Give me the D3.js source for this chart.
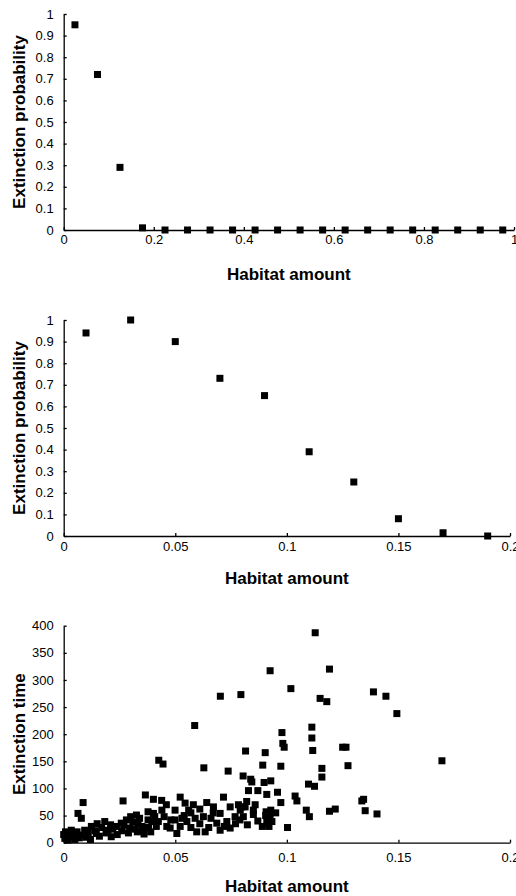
<!DOCTYPE html>
<html>
<head>
<meta charset="utf-8">
<script src="https://cdn.jsdelivr.net/npm/d3@7"></script>
<style>
  body { margin: 0; background: #fff; }
  svg { display: block; font-family: "Liberation Sans", Arial, sans-serif; }
  .axis path, .axis line { stroke: #000; stroke-width: 1.3; }
  .axis text { font-size: 13px; fill: #000; }
  .title { font-size: 17px; font-weight: bold; fill: #000; }
</style>
</head>
<body>
<div id="chartDiv"></div>
<script>
// Panel A: extinction probability vs habitat amount (0..1)
var habitatA = [0.025, 0.075, 0.125, 0.175, 0.225, 0.275, 0.325, 0.375, 0.425, 0.475,
                0.525, 0.575, 0.625, 0.675, 0.725, 0.775, 0.825, 0.875, 0.925, 0.975];
var probA = [0.95, 0.72, 0.29, 0.01, 0, 0, 0, 0, 0, 0, 0, 0, 0, 0, 0, 0, 0, 0, 0, 0];

// Panel B: extinction probability vs habitat amount (0..0.2)
var habitatB = [0.01, 0.03, 0.05, 0.07, 0.09, 0.11, 0.13, 0.15, 0.17, 0.19];
var probB = [0.94, 1.0, 0.9, 0.73, 0.65, 0.39, 0.25, 0.08, 0.015, 0];

// Panel C: extinction time vs habitat amount
var habitatC = [
  0.1127, 0.0925, 0.1191, 0.1018, 0.1149, 0.1179, 0.1388, 0.1444, 0.1493, 0.1695,
  0.0702, 0.0794, 0.0587, 0.1112, 0.1112, 0.1116, 0.0978, 0.0982, 0.0988, 0.0903,
  0.0815, 0.1250, 0.1265, 0.1274, 0.0426, 0.0445, 0.0628, 0.0737, 0.0892, 0.0973,
  0.1157, 0.1157, 0.0804, 0.0838, 0.0843, 0.0898, 0.0928, 0.1097, 0.1124, 0.0828,
  0.0870, 0.0910, 0.0958, 0.1037, 0.1045, 0.0973, 0.1336, 0.1344, 0.1351, 0.1404,
  0.1191, 0.1217, 0.1087, 0.1101, 0.1003, 0.0820, 0.0858, 0.0798, 0.0850, 0.0805,
  0.0907, 0.0928, 0.0918, 0.0933, 0.0823, 0.0905, 0.0915, 0.0925, 0.0910, 0.0920,
  0.0087, 0.0266, 0.0366, 0.0402, 0.0439, 0.0064, 0.0079, 0.0522, 0.0544, 0.0581,
  0.0641, 0.0716, 0.0671, 0.0746, 0.0783, 0.0402, 0.0424, 0.0395, 0.0462, 0.0499,
  0.0499, 0.0522, 0.0552, 0.0589, 0.0626, 0.0596, 0.0634, 0.0686, 0.0701, 0.0731,
  0.0768, 0.0791, 0.0813, 0.0507, 0.0477, 0.0701, 0.0746, 0.0560, 0.0610, 0.0660,
  0.0540, 0.0570, 0.0450, 0.0480,
  0.0012, 0.0034, 0.0057, 0.0094, 0.0124, 0.0146, 0.0184, 0.0199, 0.0213, 0.0236,
  0.0258, 0.0281, 0.0296, 0.0326, 0.0333, 0.0356, 0.0378, 0.0378, 0.0408, 0.0415,
  0.0005, 0.0010, 0.0020, 0.0030, 0.0040, 0.0050, 0.0060, 0.0070, 0.0080, 0.0100,
  0.0110, 0.0120, 0.0140, 0.0160, 0.0170, 0.0190, 0.0220, 0.0240, 0.0260, 0.0270,
  0.0290, 0.0310, 0.0320, 0.0340, 0.0350, 0.0360, 0.0380, 0.0390, 0.0000, 0.0008,
  0.0020, 0.0150, 0.0210, 0.0300, 0.0330,
  0.0440, 0.0460, 0.0530, 0.0570, 0.0610, 0.0650, 0.0670, 0.0720, 0.0770, 0.0790,
  0.0850, 0.0870, 0.0950, 0.0890
];
var timeC = [
  387, 317, 320, 284, 266, 260, 278, 270, 238, 151,
  270, 273, 216, 213, 193, 170, 203, 183, 176, 166,
  169, 176, 176, 142, 152, 145, 138, 132, 143, 141,
  137, 121, 123, 117, 112, 111, 114, 108, 104, 96,
  96, 89, 93, 86, 77, 74, 77, 80, 59, 53,
  58, 62, 60, 48, 28, 76, 70, 66, 60, 48,
  57, 60, 45, 39, 33, 50, 35, 52, 42, 30,
  74, 77, 88, 80, 78, 54, 45, 84, 73, 70,
  74, 84, 66, 66, 70, 54, 39, 39, 30, 60,
  42, 30, 39, 45, 48, 20, 20, 36, 54, 39,
  48, 60, 66, 17, 27, 23, 27, 60, 62, 45,
  50, 28, 48, 42,
  17, 23, 14, 23, 30, 17, 39, 23, 11, 30,
  36, 42, 27, 51, 36, 23, 42, 57, 48, 30,
  8, 12, 5, 10, 15, 6, 20, 9, 14, 10,
  18, 6, 22, 12, 28, 18, 25, 15, 22, 32,
  18, 38, 25, 45, 30, 16, 28, 20, 15, 20,
  18, 35, 33, 48, 20,
  60, 70, 45, 55, 35, 28, 55, 30, 35, 42,
  52, 40, 55, 30
];

// tick values
var ticksXA = [0, 0.2, 0.4, 0.6, 0.8, 1];
var ticksXB = [0, 0.05, 0.1, 0.15, 0.2];
var ticksProb = [0, 0.1, 0.2, 0.3, 0.4, 0.5, 0.6, 0.7, 0.8, 0.9, 1];
var ticksTime = [0, 50, 100, 150, 200, 250, 300, 350, 400];

var xTitle = "Habitat amount";

var svg = d3.select("#chartDiv").append("svg")
    .attr("width", 516)
    .attr("height", 896);

function drawPanel(p) {
  var x = d3.scaleLinear().domain(p.xDomain).range([63.7, p.right]);
  var y = d3.scaleLinear().domain(p.yDomain).range([p.bottom, p.top]);
  var g = svg.append("g");

  g.append("g")
      .attr("class", "axis")
      .attr("transform", "translate(0," + p.bottom + ")")
      .call(d3.axisBottom(x).tickValues(p.xTicks).tickFormat(d3.format("~g"))
        .tickSizeInner(-3).tickSizeOuter(0).tickPadding(p.xPad));

  g.append("g")
      .attr("class", "axis")
      .attr("transform", "translate(63.7,0)")
      .call(d3.axisLeft(y).tickValues(p.yTicks).tickFormat(d3.format("~g"))
        .tickSizeInner(-3).tickSizeOuter(0).tickPadding(10));

  g.selectAll(".axis text").attr("font-family", null);

  var size = 7;
  g.selectAll("rect.pt")
      .data(p.xs)
    .enter().append("rect")
      .attr("class", "pt")
      .attr("x", function(d) { return x(d) - size / 2; })
      .attr("y", function(d, i) { return y(p.ys[i]) - size / 2; })
      .attr("width", size)
      .attr("height", size)
      .attr("fill", "#000");

  g.append("text")
      .attr("class", "title")
      .attr("text-anchor", "middle")
      .attr("x", (63.7 + p.right) / 2)
      .attr("y", p.xTitleY)
      .text(xTitle);

  g.append("text")
      .attr("class", "title")
      .attr("text-anchor", "middle")
      .attr("transform", "translate(25," + (p.top + p.bottom) / 2 + ") rotate(-90)")
      .text(p.yTitle);
}

drawPanel({ xs: habitatA, ys: probA, xDomain: [0, 1], yDomain: [0, 1],
  xTicks: ticksXA, yTicks: ticksProb, right: 514, top: 14, bottom: 230,
  xPad: 5, xTitleY: 280, yTitle: "Extinction probability" });

drawPanel({ xs: habitatB, ys: probB, xDomain: [0, 0.2], yDomain: [0, 1],
  xTicks: ticksXB, yTicks: ticksProb, right: 510, top: 320, bottom: 536,
  xPad: 6, xTitleY: 584, yTitle: "Extinction probability" });

drawPanel({ xs: habitatC, ys: timeC, xDomain: [0, 0.2], yDomain: [0, 400],
  xTicks: ticksXB, yTicks: ticksTime, right: 510, top: 625.7, bottom: 842.7,
  xPad: 10, xTitleY: 892, yTitle: "Extinction time" });
</script>
</body>
</html>
